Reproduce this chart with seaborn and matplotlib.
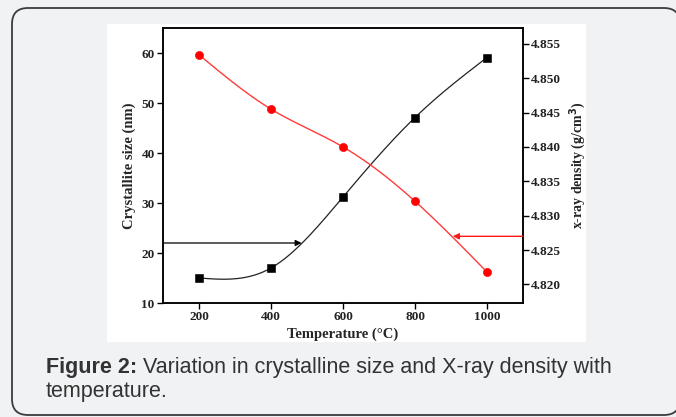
import numpy as np
import pandas as pd
import matplotlib
matplotlib.use("Agg")
import matplotlib.pyplot as plt
import seaborn as sns
from matplotlib.patches import FancyBboxPatch, Rectangle
from matplotlib.transforms import IdentityTransform

# Data
temperature = [200, 400, 600, 800, 1000]
crystallite_size = [15.0, 17.0, 31.2, 47.1, 59.1]
xray_density = [4.8534, 4.8455, 4.8400, 4.8321, 4.8218]

x_ticks = [200, 400, 600, 800, 1000]
left_ticks = [10, 20, 30, 40, 50, 60]
right_ticks = [4.820, 4.825, 4.830, 4.835, 4.840, 4.845, 4.850, 4.855]

caption_bold = "Figure 2:"
caption_rest = " Variation in crystalline size and X-ray density with"
caption_line2 = "temperature."


def natural_spline(x, y, n=200):
    """Natural cubic spline through the points, for a smooth connecting line."""
    x = np.asarray(x, float)
    y = np.asarray(y, float)
    k = len(x)
    h = np.diff(x)
    A = np.zeros((k, k))
    b = np.zeros(k)
    A[0, 0] = A[-1, -1] = 1
    for i in range(1, k - 1):
        A[i, i - 1] = h[i - 1]
        A[i, i] = 2 * (h[i - 1] + h[i])
        A[i, i + 1] = h[i]
        b[i] = 6 * ((y[i + 1] - y[i]) / h[i] - (y[i] - y[i - 1]) / h[i - 1])
    m = np.linalg.solve(A, b)
    xs = np.linspace(x[0], x[-1], n)
    ys = np.empty_like(xs)
    for j, xv in enumerate(xs):
        i = min(np.searchsorted(x, xv, side="right") - 1, k - 2)
        t1 = x[i + 1] - xv
        t0 = xv - x[i]
        ys[j] = (m[i] * t1 ** 3 + m[i + 1] * t0 ** 3) / (6 * h[i]) \
            + (y[i] / h[i] - m[i] * h[i] / 6) * t1 \
            + (y[i + 1] / h[i] - m[i + 1] * h[i] / 6) * t0
    return xs, ys


sns.set_style("ticks")
plt.rcParams["font.family"] = ["Liberation Serif", "DejaVu Serif"]

W, H = 676, 417
fig = plt.figure(figsize=(W / 100, H / 100), dpi=100)
fig.patch.set_facecolor("#f1f2f4")

# Rounded caption box and white chart panel (pixel coordinates), behind the axes
box = FancyBboxPatch((12, 2), 668, 407, boxstyle="round,pad=0,rounding_size=16",
                     transform=IdentityTransform(), facecolor="#f1f2f4",
                     edgecolor="#3c3c3c", linewidth=1.3, zorder=-3)
fig.patches.append(box)
panel = Rectangle((107, H - 342), 479, 318, transform=IdentityTransform(),
                  facecolor="white", edgecolor="none", zorder=-2)
fig.patches.append(panel)

ax = fig.add_axes([163 / W, (H - 303) / H, 360 / W, 275 / H])
ax.set_facecolor("none")
ax2 = ax.twinx()
ax2.set_facecolor("none")

df = pd.DataFrame({"temperature": temperature,
                   "size": crystallite_size,
                   "density": xray_density})

# Crystallite size (left axis)
xs, ys = natural_spline(temperature, crystallite_size)
sns.lineplot(x=xs, y=ys, ax=ax, color="#222222", linewidth=0.9)
sns.scatterplot(data=df, x="temperature", y="size", ax=ax, marker="s",
                color="black", s=28, edgecolor="black", zorder=5)

# X-ray density (right axis)
xs, ys = natural_spline(temperature, xray_density)
sns.lineplot(x=xs, y=ys, ax=ax2, color="#ff3b3b", linewidth=1.0)
sns.scatterplot(data=df, x="temperature", y="density", ax=ax2, marker="o",
                color="#ff0000", s=34, edgecolor="#ff0000", zorder=5)

ax.set_xlim(100, 1100)
ax.set_ylim(10, 65)
ax2.set_ylim(4.8173, 4.8573)
ax.set_xticks(x_ticks)
ax.set_yticks(left_ticks)
ax2.set_yticks(right_ticks)
ax2.set_yticklabels([f"{v:.3f}" for v in right_ticks])

# Arrows pointing to the relevant axis
ax.annotate("", xy=(485, 22), xytext=(100, 22),
            arrowprops=dict(arrowstyle="-|>", color="black", lw=0.9,
                            mutation_scale=9, shrinkA=0, shrinkB=0))
ax2.annotate("", xy=(905, 4.8270), xytext=(1100, 4.8270),
             arrowprops=dict(arrowstyle="-|>", color="#ff1a1a", lw=1.0,
                             mutation_scale=9, shrinkA=0, shrinkB=0))

for a in (ax, ax2):
    for s in a.spines.values():
        s.set_visible(True)
        s.set_linewidth(1.1)
        s.set_color("black")
    a.tick_params(direction="out", length=4, width=1, labelsize=9.5, pad=2,
                  colors="black")
    for lab in a.get_xticklabels() + a.get_yticklabels():
        lab.set_fontweight("bold")
        lab.set_color("#222222")
ax2.tick_params(axis="x", length=0)

ax.set_xlabel("Temperature (°C)", fontsize=10.5, fontweight="bold", labelpad=3)
ax.set_ylabel("Crystallite size (nm)", fontsize=10.5, fontweight="bold", labelpad=4)
ax2.set_ylabel("x-ray density (g/cm$^\\mathbf{3}$)", fontsize=10, fontweight="bold",
               rotation=90, labelpad=4)

# Caption
t1 = fig.text(46 / W, (H - 367) / H, caption_bold, family="Liberation Sans",
              fontsize=15.5, fontweight="bold", color="#333333", va="center")
fig.canvas.draw()
bb = t1.get_window_extent(renderer=fig.canvas.get_renderer())
fig.text(bb.x1 / W, (H - 367) / H, caption_rest, family="Liberation Sans",
         fontsize=15.5, color="#333333", va="center")
fig.text(46 / W, (H - 392) / H, caption_line2, family="Liberation Sans",
         fontsize=15.5, color="#333333", va="center")

fig.savefig("out.png", dpi=100, facecolor=fig.get_facecolor())
